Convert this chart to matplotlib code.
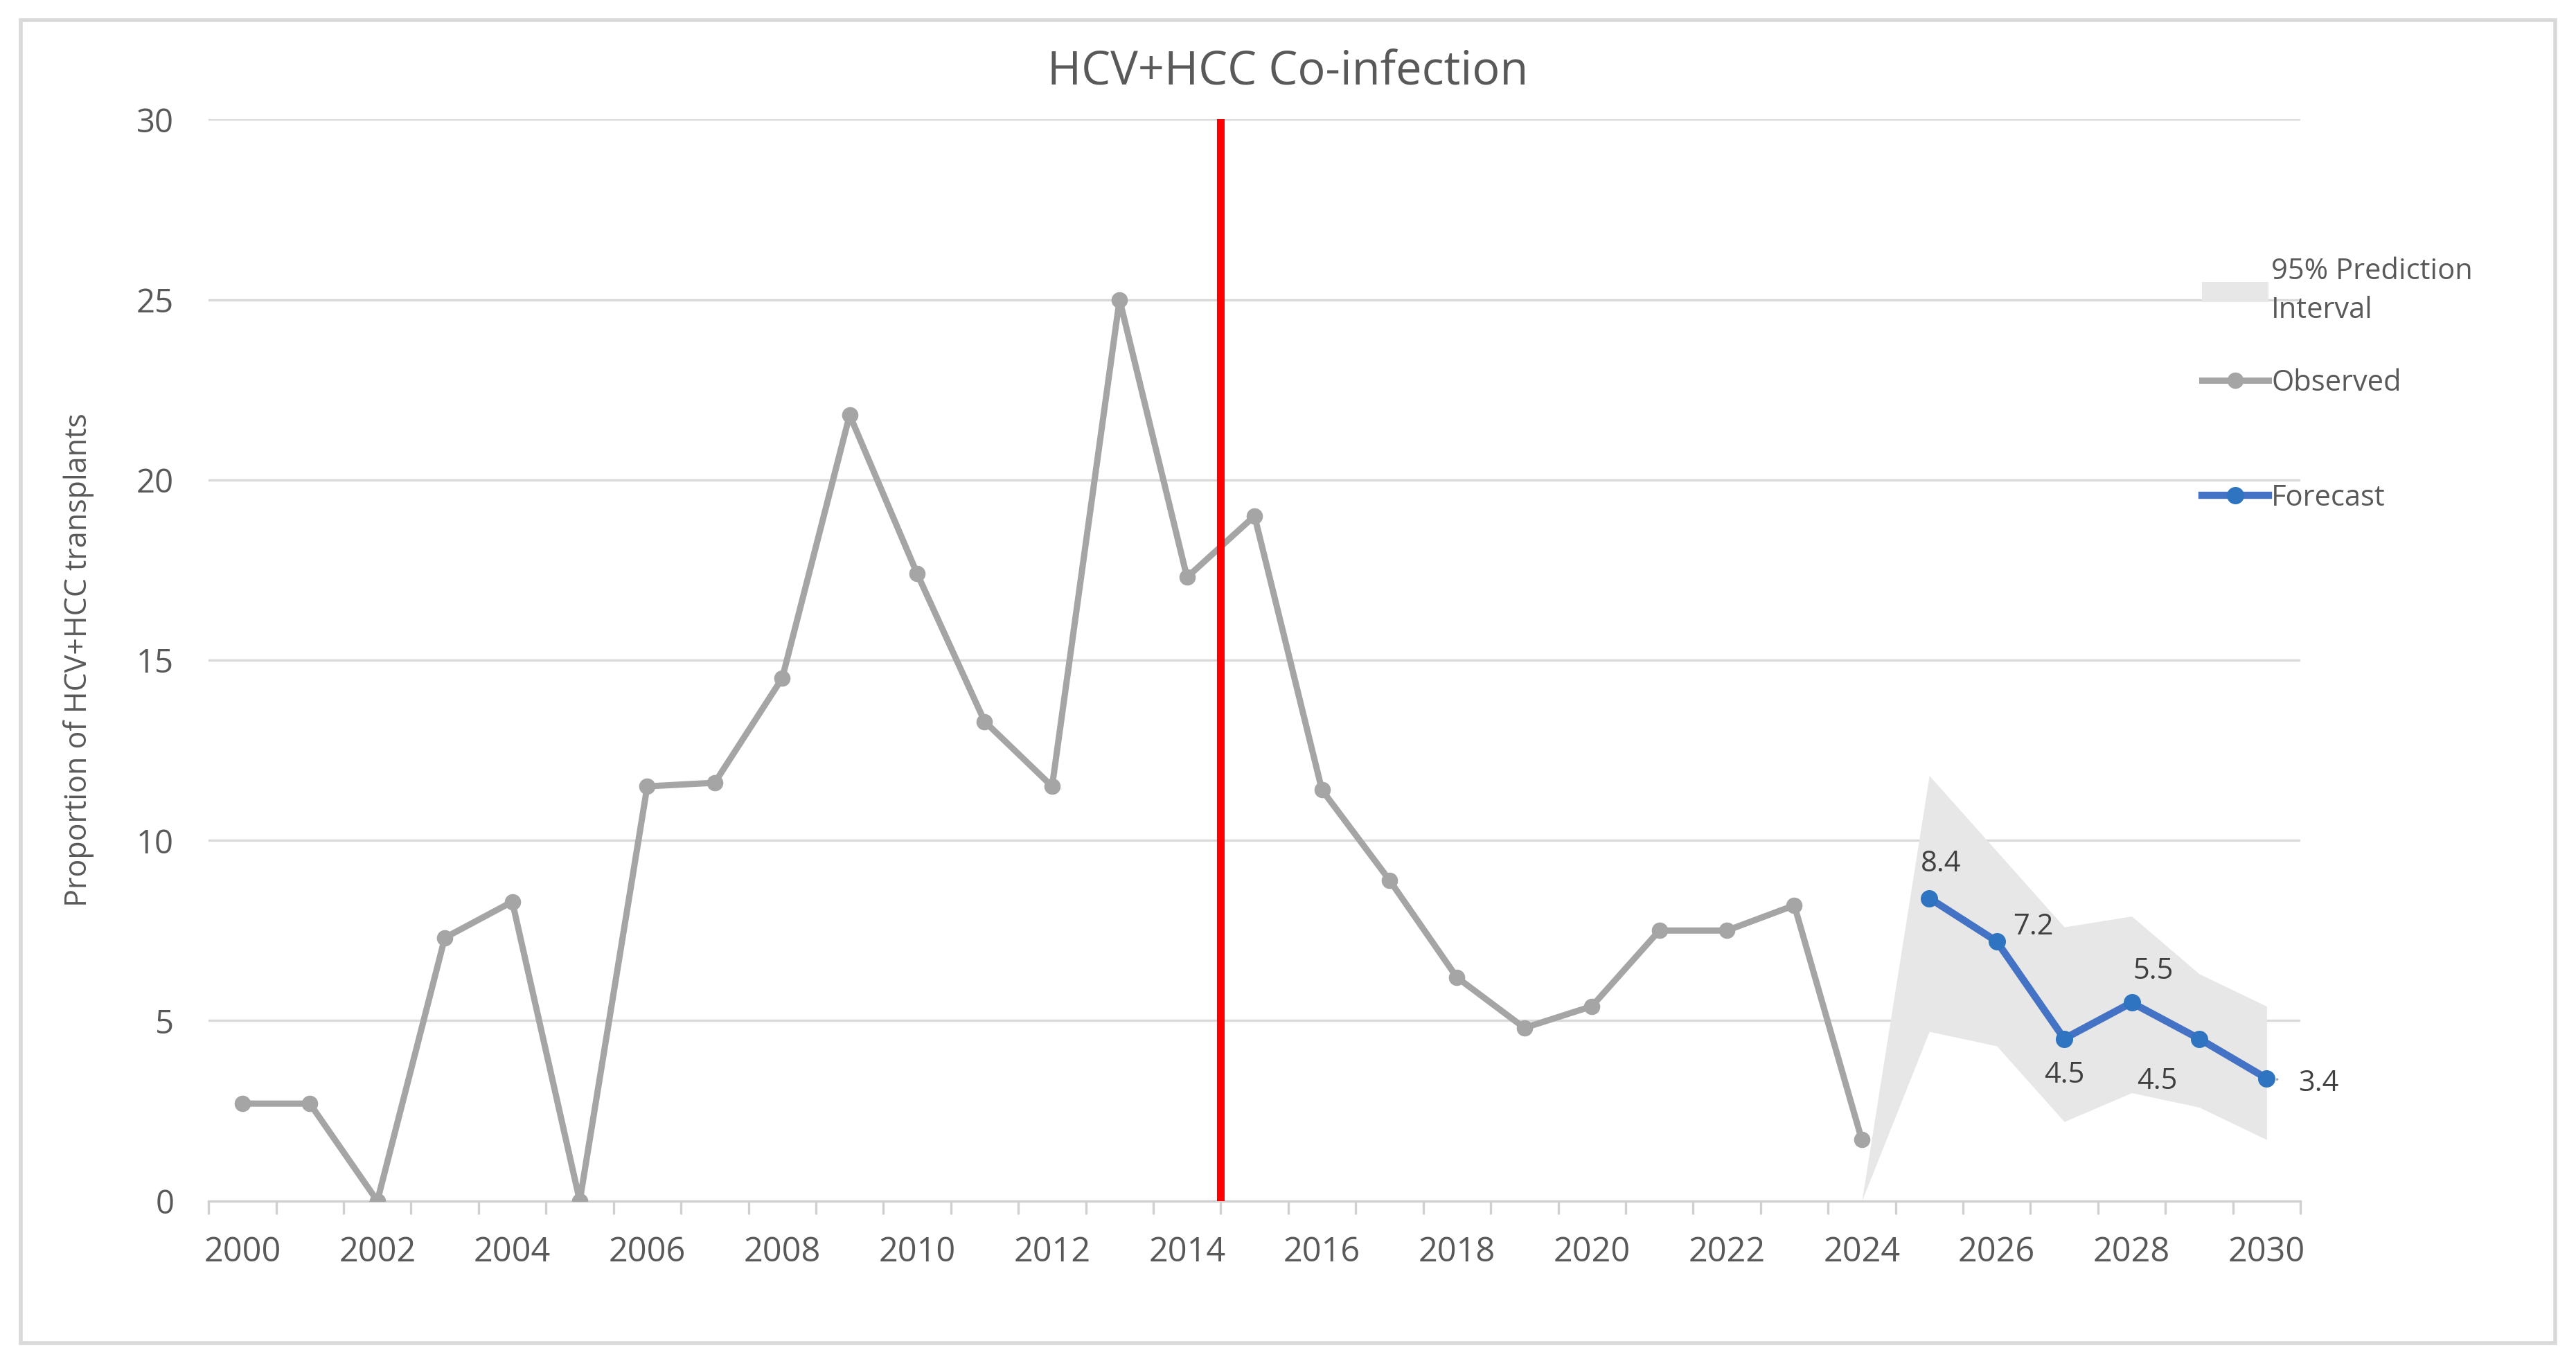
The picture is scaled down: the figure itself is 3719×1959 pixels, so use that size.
import matplotlib.pyplot as plt
from matplotlib.lines import Line2D
from matplotlib.patches import Patch, Rectangle
import numpy as np

# dane
years = list(range(2000, 2031))
obs_years = list(range(2000, 2025))
observed = [2.7, 2.7, 0.0, 7.3, 8.3, 0.0, 11.5, 11.6, 14.5, 21.8, 17.4, 13.3,
            11.5, 25.0, 17.3, 19.0, 11.4, 8.9, 6.2, 4.8, 5.4, 7.5, 7.5, 8.2, 1.7]
fc_years = [2025, 2026, 2027, 2028, 2029, 2030]
forecast = [8.4, 7.2, 4.5, 5.5, 4.5, 3.4]
pi_years = [2024, 2025, 2026, 2027, 2028, 2029, 2030]
pi_lower = [0.0, 4.7, 4.3, 2.2, 3.0, 2.6, 1.7]
pi_upper = [0.0, 11.8, 9.7, 7.6, 7.9, 6.3, 5.4]
break_year = 2014.5
yticks = [0, 5, 10, 15, 20, 25, 30]

TXT = "#595959"
GREY = "#a5a5a5"
BLUE = "#4472c4"
BLUE_MK = "#2f74c0"
plt.rcParams["font.family"] = ["Open Sans", "DejaVu Sans"]


def main():
    fig = plt.figure(figsize=(37.19, 19.59), dpi=100)
    ax = fig.add_axes([0.081, 0.115, 0.812, 0.797])

    # indeksy kategorii (os kategorii jak w Excelu)
    def idx(ys):
        return [y - years[0] for y in ys]

    ax.fill_between(idx(pi_years), pi_lower, pi_upper, color="#e7e7e7",
                    linewidth=0, zorder=1)
    ax.plot(idx(obs_years), observed, color=GREY, lw=6.5, marker="o",
            ms=16, zorder=3)
    ax.plot(idx(fc_years), forecast, color=BLUE, lw=7.5, marker="o",
            ms=17, mfc=BLUE_MK, mec=BLUE_MK, zorder=4)
    ax.plot([break_year - years[0]] * 2, [0, 30], color="#ff0000", lw=8,
            zorder=5)

    # etykiety prognozy
    offsets = [(12, 36), (38, 15), (0, -38), (22, 33), (-44, -44), (54, -5)]
    for i, (x, v, off) in enumerate(zip(idx(fc_years), forecast, offsets)):
        arrow = None
        if i == len(forecast) - 1:
            arrow = dict(arrowstyle="-", color="#a6a6a6", lw=2.5,
                         shrinkA=20, shrinkB=11)
        ax.annotate(f"{v:.1f}", (x, v), xytext=off, textcoords="offset points",
                    ha="center", va="center", fontsize=30, color="#404040",
                    arrowprops=arrow)

    ax.set_xlim(-0.5, len(years) - 0.5)
    ax.set_ylim(0, 30)
    ax.set_yticks(yticks)
    ax.set_xticks(idx(years[::2]))
    ax.set_xticklabels([str(y) for y in years[::2]])
    ax.set_xticks(np.arange(-0.5, len(years)), minor=True)
    ax.tick_params(axis="x", which="major", length=0, pad=36, labelsize=35,
                   labelcolor=TXT)
    ax.tick_params(axis="x", which="minor", length=14, width=2.4,
                   color="#d0d0d0")
    ax.tick_params(axis="y", length=0, pad=36, labelsize=34, labelcolor=TXT)
    ax.grid(axis="y", color="#d9d9d9", lw=2.4)
    ax.set_axisbelow(True)
    for s in ["top", "right", "left"]:
        ax.spines[s].set_visible(False)
    ax.spines["bottom"].set_color("#d0d0d0")
    ax.spines["bottom"].set_linewidth(2.4)

    ax.set_ylabel("Proportion of HCV+HCC transplants", fontsize=31,
                  color=TXT, labelpad=44)
    fig.text(0.5, 0.947, "HCV+HCC Co-infection", ha="center", va="center",
             fontsize=48, color=TXT)

    # legenda w dwoch czesciach (odstepy jak w Excelu)
    h_pi = Patch(facecolor="#e7e7e7", edgecolor="none")
    h_obs = Line2D([], [], color=GREY, lw=6.5, marker="o", ms=16)
    h_fc = Line2D([], [], color=BLUE, lw=7.5, marker="o", ms=17,
                  mfc=BLUE_MK, mec=BLUE_MK)
    common = dict(frameon=False, fontsize=30, labelcolor=TXT,
                  handlelength=2.3, handletextpad=0.1, borderaxespad=0,
                  borderpad=0)
    leg1 = ax.legend([h_pi, h_obs], ["95% Prediction\nInterval", "Observed"],
                     loc="upper left", bbox_to_anchor=(0.953, 0.873),
                     labelspacing=1.5, **common)
    leg1.get_texts()[0].set_linespacing(1.45)
    ax.add_artist(leg1)
    ax.legend([h_fc], ["Forecast"], loc="center left",
              bbox_to_anchor=(0.953, 0.650), **common)

    # ramka wokol calego obrazka
    fig.patches.append(Rectangle((0.008, 0.01), 0.984, 0.975,
                                 transform=fig.transFigure, fill=False,
                                 edgecolor="#d9d9d9", lw=4))

    fig.savefig("out.png", dpi=100)


if __name__ == "__main__":
    main()
